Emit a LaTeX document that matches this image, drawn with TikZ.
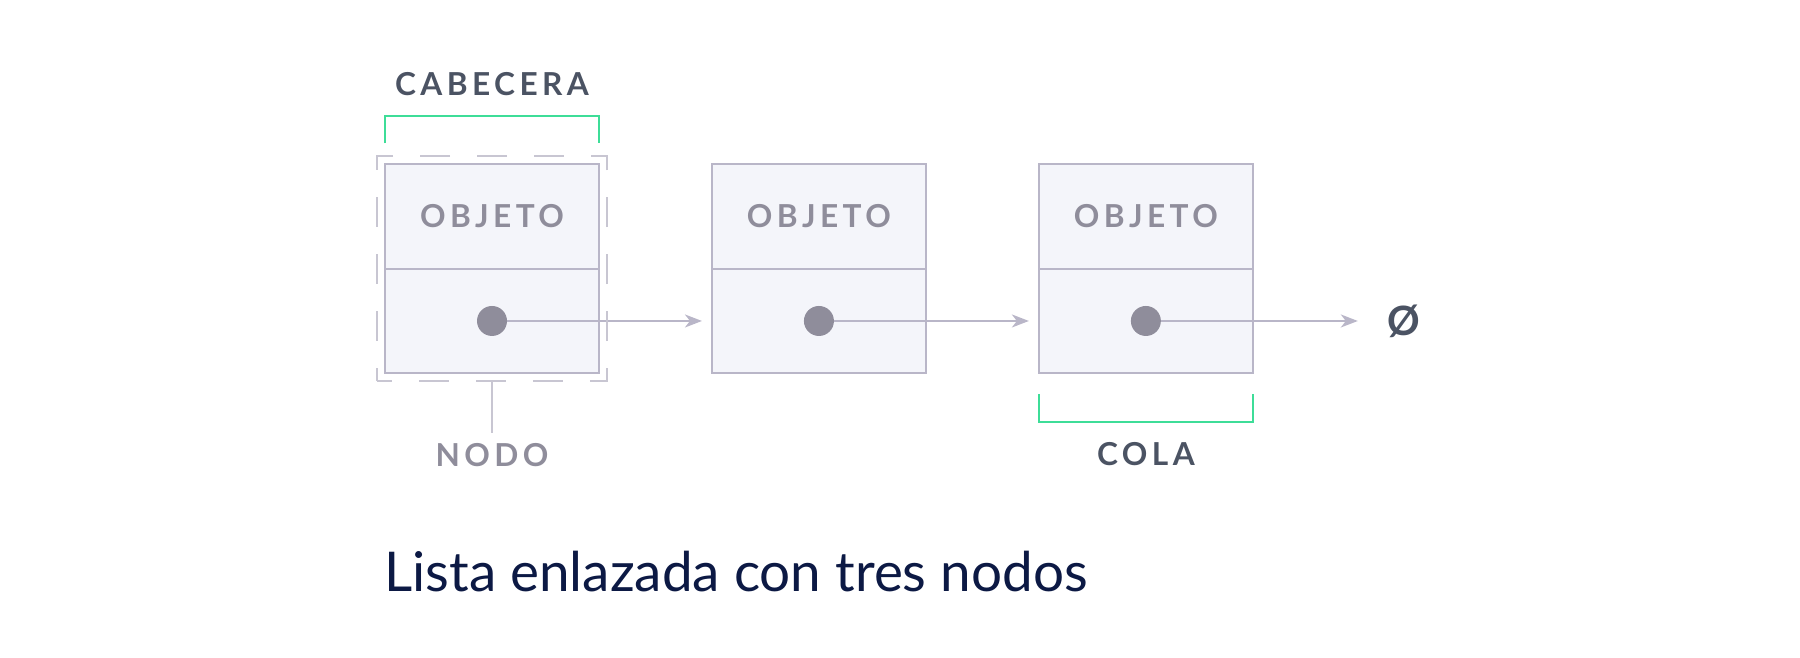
\documentclass[tikz,border=0pt]{standalone}
\usepackage{fontspec}
\setmainfont{Lato}
\newfontfamily\capsfont[LetterSpace=14]{Lato}
\usepackage{tikz}
\usetikzlibrary{positioning,fit,calc,arrows.meta}

\definecolor{boxline}{HTML}{B9B6C8}
\definecolor{boxfill}{HTML}{F4F5FA}
\definecolor{dotgrey}{HTML}{8F8D9B}
\definecolor{labelgrey}{HTML}{8F8D9B}
\definecolor{slate}{HTML}{4B5363}
\definecolor{mint}{HTML}{3EDD98}
\definecolor{navy}{HTML}{0C1944}
\definecolor{frameline}{HTML}{C8C6D2}

\begin{document}
\begin{tikzpicture}[x=0.02cm, y=-0.02cm,
half/.style={draw=boxline, fill=boxfill, line width=1.1pt,
    minimum width=4.28cm, minimum height=2.09cm, inner sep=0pt, outer sep=0pt,
    text=labelgrey, font=\capsfont\bfseries\fontsize{18}{20}\selectfont
    },
dot/.style={circle, fill=dotgrey, minimum size=0.6cm, inner sep=0pt},
link/.style={draw=boxline, line width=1.1pt, shorten >=0.2cm,
    -{Stealth[length=0.34cm, width=0.26cm, inset=0.1cm]}},
headframe/.style={draw=frameline, line width=1.1pt,
    dash pattern=on 0.6cm off 0.54cm, dash phase=0.3cm, inner sep=0.16cm},
bracket/.style={draw=mint, line width=1.1pt},
tag/.style={font=\capsfont\bfseries\fontsize{18}{20}\selectfont, inner sep=0.2cm},
nullmark/.style={font=\bfseries\fontsize{23}{24}\selectfont, text=slate, inner sep=0.38cm},
caption/.style={font=\fontsize{31.2}{34}\selectfont, text=navy, inner sep=0pt}
]
\useasboundingbox (0,0) rectangle (1800,658);

\node[half] (obj1) at (492,216.5) {OBJETO};
\foreach \i/\j in {1/2,2/3}
    \node[half] (obj\j) [right=2.26cm of obj\i] {OBJETO};
\foreach \i in {1,2,3}{
    \node[half] (ptr\i) [below=0pt of obj\i] {};
    \node[dot] (dot\i) at (ptr\i) {};
}
\node[nullmark] (null) [right=2.3cm of ptr3] {Ø};

\foreach \i/\j in {1/2,2/3}
    \draw[link] (dot\i) -- (ptr\j.west);
\draw[link] (dot3) -- (null.west);

% head
\node[headframe, fit=(obj1)(ptr1)] (frame) {};
\draw[bracket] ($(obj1.north west)+(0,-21)$) -- ++(0,-27) -| ($(obj1.north east)+(0,-21)$);
\node[tag, text=slate] (cabecera) at ($(obj1.north)+(0,-80)$) {CABECERA};

\node[tag, text=labelgrey] (nodo) at ($(ptr1.south)+(0,82)$) {NODO};
\draw[frameline, line width=1.1pt] (frame.south) -- (nodo.north);

% tail
\draw[bracket] ($(ptr3.south west)+(0,21)$) -- ++(0,28) -| ($(ptr3.south east)+(0,21)$);
\node[tag, text=slate] (cola) at ($(ptr3.south)+(0,81)$) {COLA};

\node[caption, anchor=base west] (titulo) at (384,592) {Lista enlazada con tres nodos};
\end{tikzpicture}
\end{document}
